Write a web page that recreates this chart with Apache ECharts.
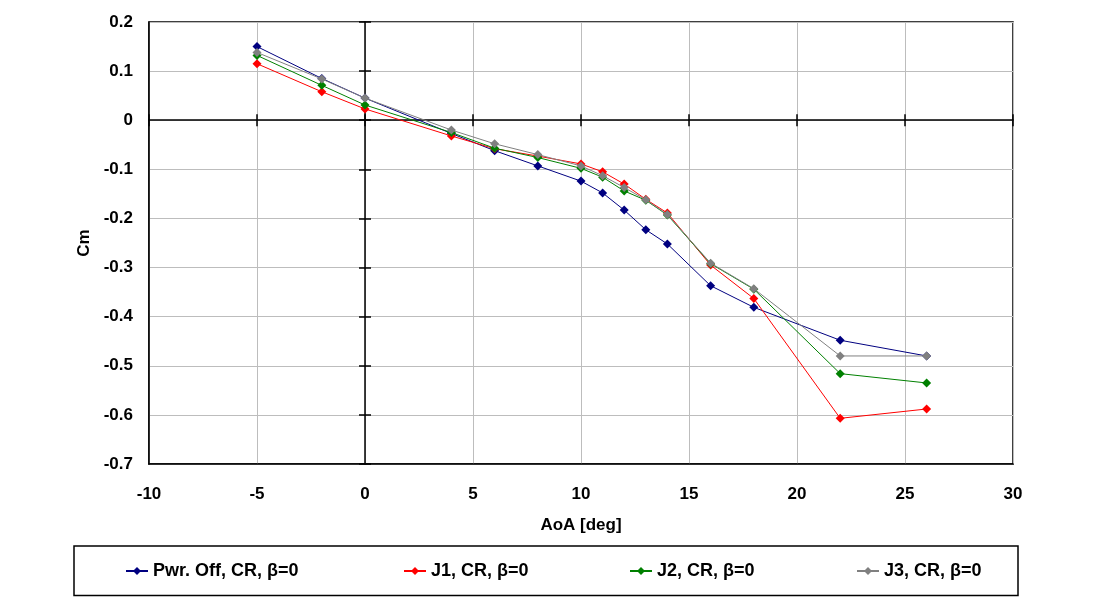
<!DOCTYPE html>
<html>
<head>
<meta charset="utf-8">
<script src="https://cdn.jsdelivr.net/npm/echarts@6/dist/echarts.min.js"></script>
<style>
html,body{margin:0;padding:0;background:#fff;}
#c{width:1095px;height:609px;}
</style>
</head>
<body>
<div id="c"></div>
<script>
const aoa = [-5, -2, 0, 4, 6, 8, 10, 11, 12, 13, 14, 16, 18, 22, 26];
const pwrOff = [0.150, 0.085, 0.045, -0.027, -0.062, -0.093, -0.124, -0.148, -0.183, -0.223, -0.252, -0.337, -0.381, -0.448, -0.480];
const j1 = [0.115, 0.058, 0.023, -0.032, -0.058, -0.073, -0.089, -0.105, -0.130, -0.161, -0.189, -0.295, -0.363, -0.607, -0.588];
const j2 = [0.132, 0.071, 0.031, -0.025, -0.057, -0.076, -0.098, -0.116, -0.144, -0.163, -0.193, -0.292, -0.344, -0.516, -0.535];
const j3 = [0.138, 0.084, 0.045, -0.020, -0.048, -0.070, -0.093, -0.113, -0.137, -0.162, -0.192, -0.291, -0.343, -0.480, -0.480];
const seriesNames = ['Pwr. Off, CR, \u03B2=0', 'J1, CR, \u03B2=0', 'J2, CR, \u03B2=0', 'J3, CR, \u03B2=0'];
const seriesData = [pwrOff, j1, j2, j3];
const colors = ['#000080', '#FF0000', '#008000', '#808080'];

const FONT = '"Liberation Sans", Arial, sans-serif';
const lbl = {fontFamily: FONT, fontWeight: 'bold', fontSize: 17, color: '#000'};

const chart = echarts.init(document.getElementById('c'), null, {renderer: 'canvas'});

const xBase = {type: 'value', min: -10, max: 30, interval: 5, gridIndex: 0};
const yBase = {type: 'value', min: -0.7, max: 0.2, interval: 0.1, gridIndex: 0};

const series = seriesData.map((d, i) => ({
  name: seriesNames[i],
  type: 'line',
  xAxisIndex: 0, yAxisIndex: 0,
  data: aoa.map((x, k) => [x, d[k]]),
  symbol: 'diamond',
  symbolSize: 9,
  showSymbol: true,
  lineStyle: {width: 1, color: colors[i]},
  itemStyle: {color: colors[i]},
  z: 10 + i,
  animation: false
}));

const legendLefts = [120, 398, 624, 851];
const legends = seriesNames.map((n, i) => ({
  data: [n],
  left: legendLefts[i],
  top: 557,
  itemWidth: 22,
  itemHeight: 10,
  itemGap: 5,
  textStyle: {fontFamily: FONT, fontWeight: 'bold', fontSize: 18, color: '#000'},
  selectedMode: false
}));

chart.setOption({
  animation: false,
  color: colors,
  grid: {left: 149, top: 22, right: 82, bottom: 145, show: true, borderColor: '#000', borderWidth: 1.5, backgroundColor: 'transparent'},
  legend: legends,
  graphic: [{
    type: 'rect',
    shape: {x: 74, y: 546, width: 944, height: 49.5},
    style: {fill: 'none', stroke: '#000', lineWidth: 1.5},
    silent: true
  }],
  xAxis: [
    Object.assign({}, xBase, {
      position: 'bottom',
      axisLine: {show: true, onZero: false, lineStyle: {color: '#000', width: 1.5}},
      axisTick: {show: false},
      axisLabel: Object.assign({margin: 22, formatter: v => String(v)}, lbl),
      splitLine: {show: true, lineStyle: {color: '#BDBDBD', width: 1}},
      name: 'AoA [deg]',
      nameLocation: 'middle',
      nameGap: 53,
      nameTextStyle: lbl
    }),
    Object.assign({}, xBase, {
      axisLine: {show: true, onZero: true, onZeroAxisIndex: 0, lineStyle: {color: '#000', width: 1.5}},
      axisTick: {show: true, inside: false, length: 6, lineStyle: {color: '#000', width: 1.5}},
      axisLabel: {show: false},
      splitLine: {show: false}
    }),
    Object.assign({}, xBase, {
      axisLine: {show: false, onZero: true, onZeroAxisIndex: 0},
      axisTick: {show: true, inside: true, length: 6, lineStyle: {color: '#000', width: 1.5}},
      axisLabel: {show: false},
      splitLine: {show: false}
    })
  ],
  yAxis: [
    Object.assign({}, yBase, {
      position: 'left',
      axisLine: {show: true, onZero: false, lineStyle: {color: '#000', width: 1.5}},
      axisTick: {show: false},
      axisLabel: Object.assign({margin: 16, formatter: v => String(Math.round(v * 10) / 10)}, lbl),
      splitLine: {show: true, lineStyle: {color: '#BDBDBD', width: 1}},
      name: 'Cm',
      nameLocation: 'middle',
      nameGap: 49,
      nameRotate: 90,
      nameTextStyle: lbl
    }),
    Object.assign({}, yBase, {
      axisLine: {show: true, onZero: true, onZeroAxisIndex: 0, lineStyle: {color: '#000', width: 1.5}},
      axisTick: {show: true, inside: false, length: 6, lineStyle: {color: '#000', width: 1.5}},
      axisLabel: {show: false},
      splitLine: {show: false}
    }),
    Object.assign({}, yBase, {
      axisLine: {show: false, onZero: true, onZeroAxisIndex: 0},
      axisTick: {show: true, inside: true, length: 6, lineStyle: {color: '#000', width: 1.5}},
      axisLabel: {show: false},
      splitLine: {show: false}
    })
  ],
  series: series
});
</script>
</body>
</html>
